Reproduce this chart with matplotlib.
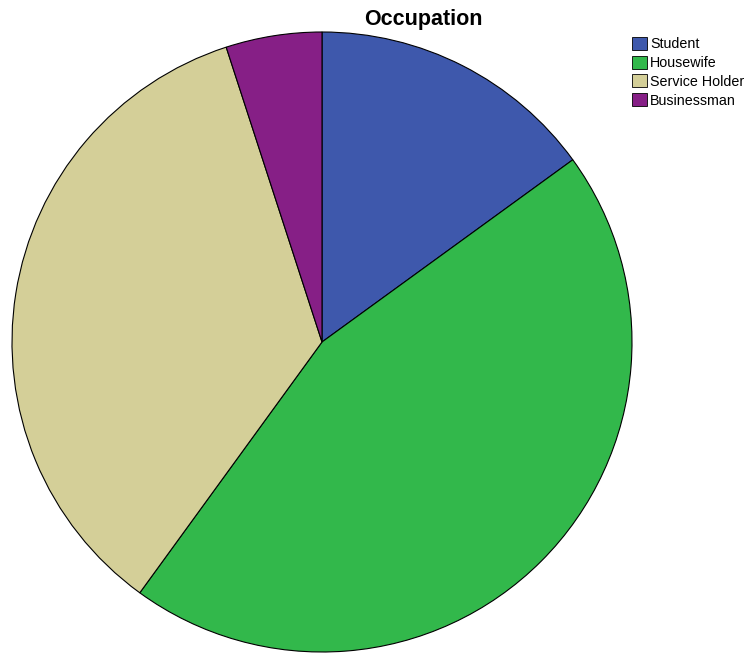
import matplotlib
matplotlib.use("Agg")
import matplotlib.pyplot as plt

# Occupation shares (percent)
labels = ['Student', 'Housewife', 'Service Holder', 'Businessman']
values = [15, 45, 35, 5]
colors = ['#3e58ac', '#32b84b', '#d4cf98', '#861f86']

plt.rcParams['font.family'] = ['Liberation Sans', 'DejaVu Sans']

fig = plt.figure(figsize=(7.49, 6.55), dpi=100)
ax = fig.add_axes([0, 0, 1, 1])

wedges, _ = ax.pie(values, colors=colors, startangle=90, counterclock=False,
                   center=(322, 655 - 342), radius=310, frame=True,
                   wedgeprops={'edgecolor': 'black', 'linewidth': 0.8})
ax.set_xlim(0, 749)
ax.set_ylim(0, 655)
ax.set_aspect('equal')
ax.axis('off')

fig.text(423 / 749, 1 - 19 / 655, 'Occupation', ha='center', va='center',
         fontsize=15.5, fontweight='bold')

leg = ax.legend(wedges, labels, loc='upper left',
                bbox_to_anchor=(632 / 749, 1 - 37 / 655), frameon=False,
                fontsize=10.3, handlelength=1.05, handleheight=1.0,
                handletextpad=0.2, labelspacing=0.31,
                borderaxespad=0, borderpad=0)
for h in leg.legend_handles:
    h.set_edgecolor('black')
    h.set_linewidth(0.6)

fig.savefig('out.png', dpi=100)
